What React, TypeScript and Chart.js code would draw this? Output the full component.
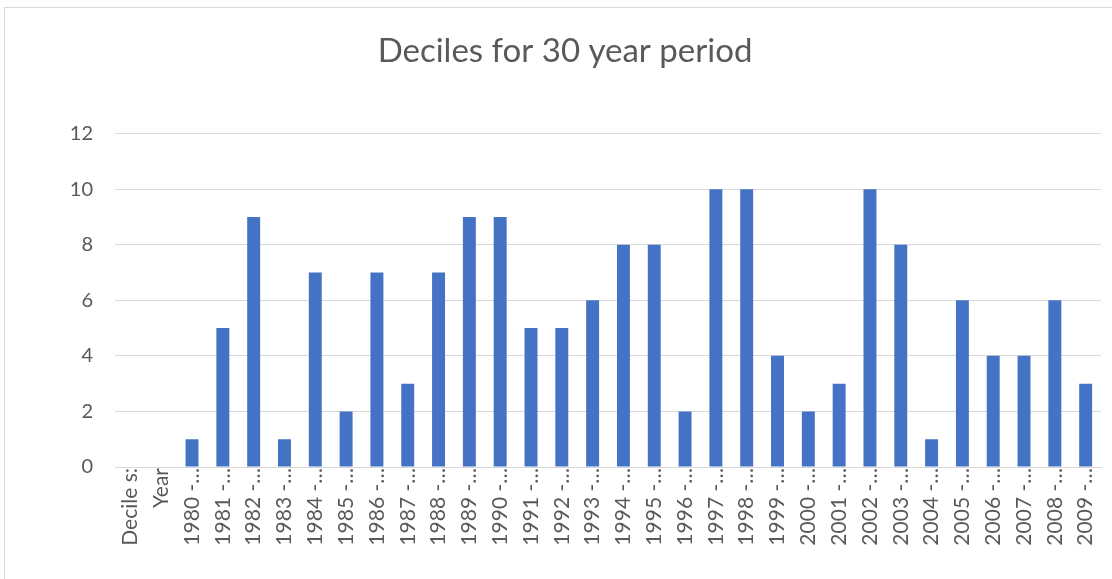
import React, { useEffect, useRef } from "react";
import { Chart, registerables } from "chart.js";

Chart.register(...registerables);

const categories: string[] = [
  "Decile s:", "Year",
  "1980 -…", "1981 -…", "1982 -…", "1983 -…", "1984 -…", "1985 -…", "1986 -…", "1987 -…",
  "1988 -…", "1989 -…", "1990 -…", "1991 -…", "1992 -…", "1993 -…", "1994 -…", "1995 -…",
  "1996 -…", "1997 -…", "1998 -…", "1999 -…", "2000 -…", "2001 -…", "2002 -…", "2003 -…",
  "2004 -…", "2005 -…", "2006 -…", "2007 -…", "2008 -…", "2009 -…",
];

const deciles: (number | null)[] = [
  null, null,
  1, 5, 9, 1, 7, 2, 7, 3,
  7, 9, 9, 5, 5, 6, 8, 8,
  2, 10, 10, 4, 2, 3, 10, 8,
  1, 6, 4, 4, 6, 3,
];

const yMin = 0;
const yMax = 12;
const yStep = 2;

const FONT = "Lato, 'Open Sans', sans-serif";
const TEXT = "#595959";
const GRID = "#d9d9d9";

export default function App() {
  const ref = useRef<HTMLCanvasElement | null>(null);

  useEffect(() => {
    if (!ref.current) return;
    const chart = new Chart(ref.current, {
      type: "bar",
      data: {
        labels: categories,
        datasets: [
          {
            label: "Deciles",
            data: deciles,
            backgroundColor: "#4472C4",
            borderWidth: 0,
            barPercentage: 0.84,
            categoryPercentage: 0.5,
          },
        ],
      },
      options: {
        animation: false,
        responsive: false,
        maintainAspectRatio: false,
        layout: { padding: { left: 27, right: 9, top: 0, bottom: 0 } },
        plugins: {
          legend: { display: false },
          tooltip: { enabled: false },
          title: {
            display: true,
            text: "Deciles for 30 year period",
            color: TEXT,
            font: { family: FONT, size: 33, weight: "normal", lineHeight: 1.2 },
            padding: { top: 32, bottom: 62 },
          },
        },
        scales: {
          x: {
            grid: { display: false, drawTicks: false },
            border: { display: true, color: GRID, width: 1 },
            ticks: {
              color: TEXT,
              font: { family: FONT, size: 21 },
              minRotation: 90,
              maxRotation: 90,
              autoSkip: false,
              padding: 1,
            },
            afterFit: (scale: any) => {
              scale.height = 112;
            },
          },
          y: {
            min: yMin,
            max: yMax,
            grid: { color: GRID, lineWidth: 1, drawTicks: false },
            border: { display: false },
            ticks: {
              stepSize: yStep,
              color: TEXT,
              font: { family: FONT, size: 20 },
              padding: 22,
            },
            afterFit: (scale: any) => {
              scale.width = 88;
            },
          },
        },
      },
    });
    return () => chart.destroy();
  }, []);

  return (
    <div style={{ position: "fixed", left: 0, top: 0, width: 1112, height: 579, background: "#fff", overflow: "hidden" }}>
      <div
        style={{
          position: "absolute",
          left: 4,
          top: 7,
          width: 1200,
          height: 700,
          border: "1px solid #d9d9d9",
          boxSizing: "border-box",
        }}
      />
      <canvas ref={ref} width={1112} height={579} style={{ position: "absolute", left: 0, top: 0 }} />
    </div>
  );
}
